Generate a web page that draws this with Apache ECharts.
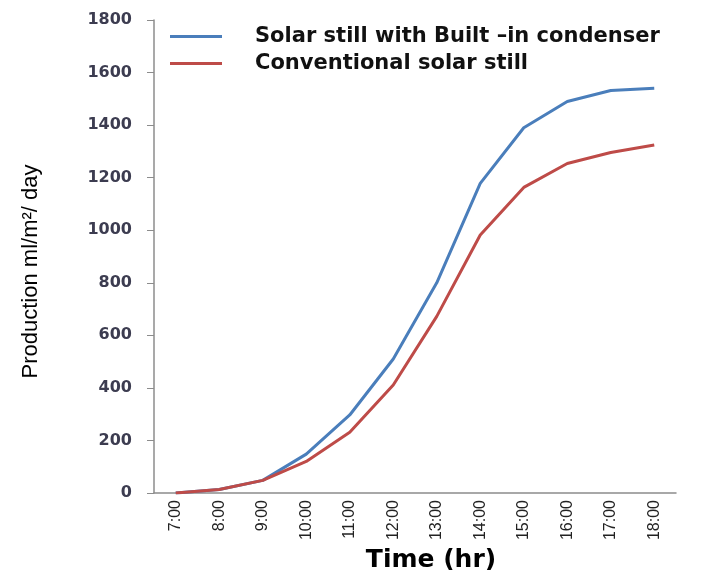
<!DOCTYPE html>
<html>
<head>
<meta charset="utf-8">
<script src="https://cdn.jsdelivr.net/npm/echarts@6/dist/echarts.min.js"></script>
<style>html,body{margin:0;padding:0;background:#fff}#c{width:721px;height:570px}</style>
</head>
<body>
<div id="c"></div>
<script>
var categories = ['7:00','8:00','9:00','10:00','11:00','12:00','13:00','14:00','15:00','16:00','17:00','18:00'];
var builtIn = [0, 13, 48, 148, 297, 510, 800, 1178, 1390, 1490, 1532, 1540];
var conventional = [0, 13, 48, 120, 231, 411, 672, 982, 1163, 1254, 1296, 1324];
var seriesNames = ['Solar still with Built \u2013in condenser', 'Conventional solar still'];

var chart = echarts.init(document.getElementById('c'));
chart.setOption({
  animation: false,
  backgroundColor: '#fff',
  grid: {left: 154, right: 45, top: 20, bottom: 77, containLabel: false, outerBoundsMode: 'none'},
  legend: {
    orient: 'vertical', left: 165, top: 20,
    itemWidth: 52, itemHeight: 3, itemGap: 4, icon: 'rect',
    textStyle: {fontFamily: 'DejaVu Sans', fontWeight: 'bold', fontSize: 21, color: '#111', lineHeight: 23, padding: [0,0,0,28]},
    data: seriesNames
  },
  xAxis: {
    type: 'category', data: categories, boundaryGap: true,
    name: 'Time (hr)', nameLocation: 'middle', nameGap: 50,
    nameTextStyle: {fontFamily: 'DejaVu Sans', fontWeight: 'bold', fontSize: 25, color: '#000', padding: [0,0,0,32]},
    axisLine: {lineStyle: {color: '#8c8c8c', width: 1.5}},
    axisTick: {length: 5, lineStyle: {color: '#8c8c8c'}},
    axisLabel: {rotate: 90, margin: 7, fontFamily: 'Liberation Sans', fontSize: 16, color: '#222'}
  },
  yAxis: {
    type: 'value', min: 0, max: 1800, interval: 200,
    name: 'Production ml/m\u00b2/ day', nameLocation: 'middle', nameGap: 112,
    nameTextStyle: {fontFamily: 'Liberation Sans', fontSize: 22, color: '#000', padding: [0,30,0,0]},
    axisLine: {show: true, lineStyle: {color: '#8c8c8c', width: 1.5}},
    axisTick: {show: true, length: 7, lineStyle: {color: '#8c8c8c'}},
    splitLine: {show: false},
    axisLabel: {margin: 22, fontFamily: 'DejaVu Sans', fontWeight: 'bold', fontSize: 16, color: '#3c3c50',
      formatter: function (v) { return String(v); }}
  },
  series: [
    {name: seriesNames[0], type: 'line', data: builtIn, showSymbol: false, symbol: 'none', lineStyle: {color: '#4a7ebb', width: 3}, itemStyle: {color: '#4a7ebb'}},
    {name: seriesNames[1], type: 'line', data: conventional, showSymbol: false, symbol: 'none', lineStyle: {color: '#be4b48', width: 3}, itemStyle: {color: '#be4b48'}}
  ]
});
</script>
</body>
</html>
